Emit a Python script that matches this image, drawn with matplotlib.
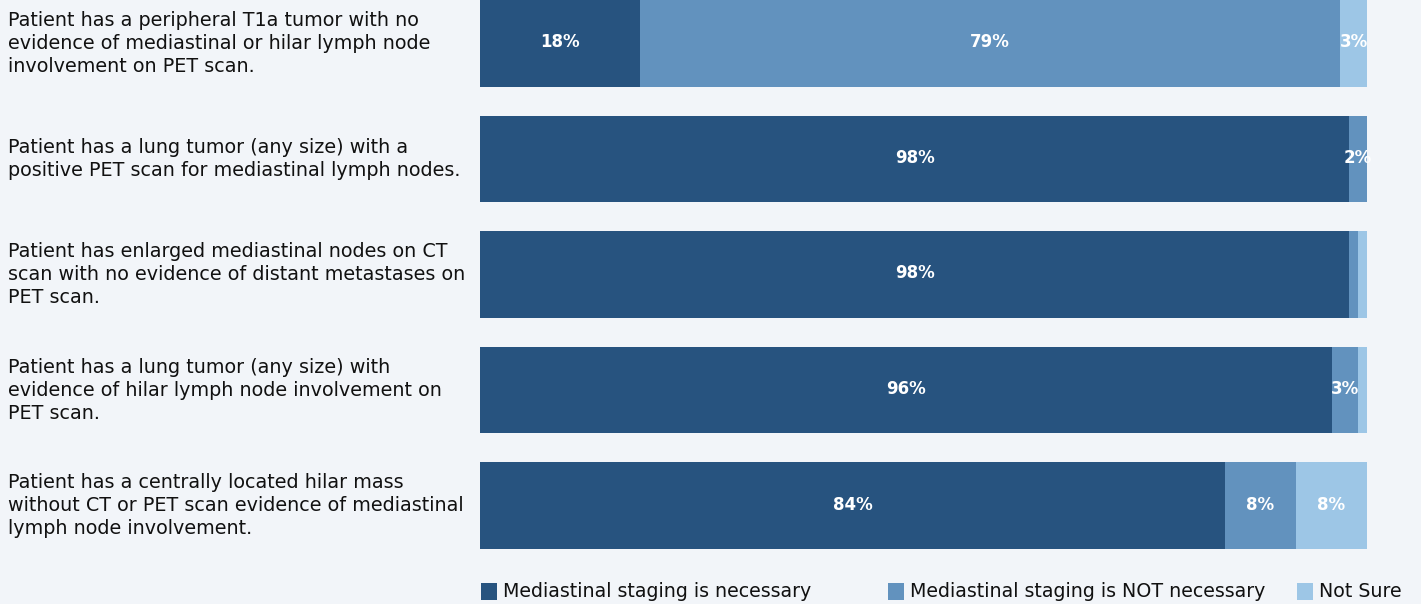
import numpy as np
import matplotlib
matplotlib.use("Agg")
import matplotlib.pyplot as plt
from matplotlib.patches import Rectangle

questions = [
    "Patient has a peripheral T1a tumor with no\nevidence of mediastinal or hilar lymph node\ninvolvement on PET scan.",
    "Patient has a lung tumor (any size) with a\npositive PET scan for mediastinal lymph nodes.",
    "Patient has enlarged mediastinal nodes on CT\nscan with no evidence of distant metastases on\nPET scan.",
    "Patient has a lung tumor (any size) with\nevidence of hilar lymph node involvement on\nPET scan.",
    "Patient has a centrally located hilar mass\nwithout CT or PET scan evidence of mediastinal\nlymph node involvement.",
]
necessary = [18, 98, 98, 96, 84]
not_necessary = [79, 2, 1, 3, 8]
not_sure = [3, 0, 1, 1, 8]
series_names = ["Mediastinal staging is necessary",
                "Mediastinal staging is NOT necessary",
                "Not Sure"]
colors = ["#27537f", "#6292be", "#9dc6e6"]
bg = "#f2f5f9"

W, H = 1421, 604
fig = plt.figure(figsize=(W / 100, H / 100), dpi=100, facecolor=bg)
ax = fig.add_axes([480 / W, (H - 549) / H, (1367 - 480) / W, 549 / H])
ax.set_facecolor(bg)

y = np.arange(len(questions))
left = np.zeros(len(questions))
for vals, name, c in zip([necessary, not_necessary, not_sure], series_names, colors):
    vals = np.array(vals, dtype=float)
    ax.barh(y, vals, left=left, height=0.75, color=c, label=name)
    for yi, l, v in zip(y, left, vals):
        if v >= 2:
            ax.text(l + v / 2, yi - 0.01, f"{int(v)}%", ha="center", va="center",
                    color="white", fontsize=12, fontweight="bold")
    left += vals

ax.set_xlim(0, 100)
ax.set_ylim(len(questions) - 1 + 0.375, -0.375)
ax.axis("off")

for yi, q in zip(y, questions):
    yd = ax.transData.transform((0, yi))[1]
    fig.text(8 / W, yd / H, q, ha="left", va="center", fontsize=13.8,
             color="#111111", linespacing=1.27)

# legend, laid out by hand along the bottom
leg_x = [481, 888, 1297]
for lx, name, c in zip(leg_x, series_names, colors):
    fig.patches.append(Rectangle((lx / W, 4 / H), 16 / W, 17 / H,
                                 transform=fig.transFigure, facecolor=c,
                                 edgecolor="none"))
    fig.text((lx + 22) / W, 12.5 / H, name, ha="left", va="center",
             fontsize=13.7, color="#111111")

fig.savefig("out.png", dpi=100, facecolor=bg)
